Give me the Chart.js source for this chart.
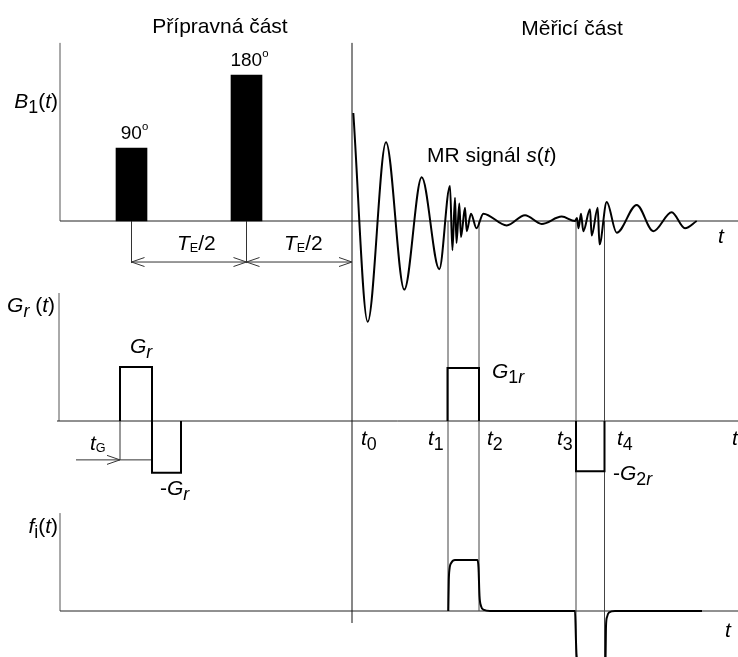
<!DOCTYPE html>
<html>
<head>
<meta charset="utf-8">
<script src="https://cdn.jsdelivr.net/npm/chart.js@4"></script>
<style>
  html, body { margin: 0; padding: 0; background: #fff; }
  #wrap { width: 738px; height: 657px; }
</style>
</head>
<body>
<div id="wrap"><canvas id="grafico" width="738" height="657"></canvas></div>
<script>
// cas v libovolnych jednotkach (0 = pocatek os)
const rfTimes = [7.15, 18.65];
const rfHeights = [0.5, 1.0];
const rfNames = ['90', '180'];

const markerNames = ['0', '1', '2', '3', '4'];
const markerTimes = [29.2, 38.8, 41.9, 51.6, 54.45];

// MR signal s(t) - extremy
const signalTimes = [29.33, 30.77, 32.6, 34.43, 36.17, 37.93, 39.0, 39.24, 39.5, 39.65, 39.93, 40.1,
  40.5, 40.67, 41.1, 41.65, 42.33, 44.67, 46.5, 48.17, 50.17, 51.5, 51.7, 51.85, 52.1, 52.33,
  53.0, 53.17, 53.77, 53.95, 54.67, 55.67, 57.67, 59.33, 61.17, 62.5, 63.67];
const signalValues = [0.74, -0.69, 0.54, -0.47, 0.30, -0.33, 0.24, -0.20, 0.16, -0.15, 0.12, -0.11,
  0.09, -0.07, 0.05, -0.05, 0.05, -0.03, 0.04, -0.02, 0.03, 0, 0.02, -0.05, 0.05, -0.07,
  0.08, -0.10, 0.09, -0.16, 0.13, -0.08, 0.11, -0.07, 0.06, -0.05, 0];

// gradienty G_r(t)
const gradTimes = [6.0, 6.0, 9.2, 9.2, 12.1, 12.1];
const gradValues = [0, 1, 1, -0.96, -0.96, 0];
const grad1Times = [38.75, 38.75, 41.9, 41.9];
const grad1Values = [0, 0.98, 0.98, 0];
const grad2Times = [51.6, 51.6, 54.45, 54.45];
const grad2Values = [0, -0.93, -0.93, 0];

// f_i(t)
const freqTimes = [38.83, 38.88, 38.95, 39.15, 39.5, 41.75, 41.85, 41.95, 42.1, 42.4, 43.0,
  51.5, 51.6, 51.65, 51.8, 51.95, 54.4, 54.55, 54.6, 54.7, 54.9, 55.5, 64.2];
const freqValues = [0, 0.6, 0.82, 0.95, 1.0, 1.0, 0.85, 0.3, 0.1, 0.02, 0,
  0, -0.6, -0.85, -1.0, -1.1, -1.1, -0.95, -0.3, -0.12, -0.03, 0, 0];

// rozlozeni
const W = 738, H = 657;
const panels = {
  yB: { base: 221, ppu: 146 },
  yG: { base: 421, ppu: 54 },
  yF: { base: 611, ppu: 51 }
};
const FONT = '"Liberation Sans", Arial, sans-serif';

const toPoints = (xs, ys) => xs.map((x, i) => ({ x: x, y: ys[i] }));

function yScale(p) {
  return { type: 'linear', display: false, min: -(H - p.base) / p.ppu, max: p.base / p.ppu };
}

// text s kurzivou, dolnimi a hornimi indexy
function rich(ctx, x, y, runs, size, align) {
  const parts = runs.map(r => {
    const f = r[1] || '';
    let sz = size, dy = 0;
    if (f.includes('b')) { sz = size * 0.85; dy = 5; }
    if (f.includes('s')) { sz = size * 0.6; dy = 2; }
    if (f.includes('p')) { sz = size * 0.6; dy = -9; }
    const font = (f.includes('i') ? 'italic ' : '') + sz + 'px ' + FONT;
    ctx.font = font;
    return { t: r[0], font: font, dy: dy, w: ctx.measureText(r[0]).width };
  });
  const total = parts.reduce((a, p) => a + p.w, 0);
  let cx = x;
  if (align === 'center') cx = x - total / 2;
  if (align === 'right') cx = x - total;
  ctx.textAlign = 'left';
  ctx.textBaseline = 'alphabetic';
  ctx.fillStyle = '#000';
  parts.forEach(p => {
    ctx.font = p.font;
    ctx.fillText(p.t, cx, y + p.dy);
    cx += p.w;
  });
}

function line(ctx, x1, y1, x2, y2) {
  ctx.beginPath();
  ctx.moveTo(x1, y1);
  ctx.lineTo(x2, y2);
  ctx.stroke();
}

function chevron(ctx, x, y, dir) {
  ctx.beginPath();
  ctx.moveTo(x + dir * 13, y - 4.5);
  ctx.lineTo(x, y);
  ctx.lineTo(x + dir * 13, y + 4.5);
  ctx.stroke();
}

const schema = {
  id: 'schema',
  beforeDatasetsDraw(chart) {
    const { ctx, scales } = chart;
    const X = v => scales.x.getPixelForValue(v);
    const B = v => scales.yB.getPixelForValue(v);
    const G = v => scales.yG.getPixelForValue(v);
    const F = v => scales.yF.getPixelForValue(v);
    ctx.save();
    ctx.lineWidth = 1;

    // osy
    ctx.strokeStyle = '#555';
    line(ctx, X(0), B(1.22), X(0), B(0));
    line(ctx, X(-0.1), G(2.37), X(-0.1), G(0));
    line(ctx, X(0), F(1.92), X(0), F(0));
    ctx.strokeStyle = '#222';
    line(ctx, X(0), B(0), W, B(0));
    line(ctx, X(-0.3), G(0), W, G(0));
    line(ctx, X(0), F(0), W, F(0));

    // casove znacky
    ctx.strokeStyle = '#111';
    line(ctx, X(markerTimes[0]), B(1.22), X(markerTimes[0]), F(-0.235));
    ctx.strokeStyle = '#444';
    line(ctx, X(markerTimes[1]), B(0), X(markerTimes[1]), F(0));
    line(ctx, X(markerTimes[2]), B(0), X(markerTimes[2]), F(0));
    line(ctx, X(markerTimes[3]), B(0), X(markerTimes[3]), H);
    line(ctx, X(markerTimes[4]), B(0), X(markerTimes[4]), H);

    // T_E/2 kotovani
    ctx.strokeStyle = '#333';
    line(ctx, X(rfTimes[0]), B(0), X(rfTimes[0]), B(-0.288));
    line(ctx, X(rfTimes[1]), B(0), X(rfTimes[1]), B(-0.288));
    const ya = B(-0.281);
    line(ctx, X(rfTimes[0]), ya, X(markerTimes[0]), ya);
    chevron(ctx, X(rfTimes[0]), ya, 1);
    chevron(ctx, X(rfTimes[1]), ya, -1);
    chevron(ctx, X(rfTimes[1]), ya, 1);
    chevron(ctx, X(markerTimes[0]), ya, -1);

    // t_G
    const yt = G(-0.72);
    line(ctx, X(1.6), yt, X(gradTimes[2]), yt);
    line(ctx, X(gradTimes[0]), G(0), X(gradTimes[0]), yt);
    chevron(ctx, X(gradTimes[0]), yt, -1);
    ctx.restore();
  },
  afterDatasetsDraw(chart) {
    const { ctx, scales } = chart;
    const X = v => scales.x.getPixelForValue(v);
    const B = v => scales.yB.getPixelForValue(v);
    const G = v => scales.yG.getPixelForValue(v);
    const F = v => scales.yF.getPixelForValue(v);
    const S = 21;
    ctx.save();
    rich(ctx, X(16.0), B(1.288), [['Přípravná část']], S, 'center');
    rich(ctx, X(51.2), B(1.274), [['Měřicí část']], S, 'center');
    rich(ctx, X(-0.2), B(0.774), [['B', 'i'], ['1', 'b'], ['('], ['t', 'i'], [')']], S, 'right');
    rich(ctx, X(rfTimes[0]) + 3, B(rfHeights[0]) - 9, [[rfNames[0]], ['o', 'p']], S - 2, 'center');
    rich(ctx, X(rfTimes[1]) + 3, B(rfHeights[1]) - 9, [[rfNames[1]], ['o', 'p']], S - 2, 'center');
    rich(ctx, X(11.7), B(-0.199), [['T', 'i'], ['E', 's'], ['/2']], S, 'left');
    rich(ctx, X(22.4), B(-0.199), [['T', 'i'], ['E', 's'], ['/2']], S, 'left');
    rich(ctx, X(36.7), B(0.404), [['MR signál '], ['s', 'i'], ['('], ['t', 'i'], [')']], S, 'left');
    rich(ctx, X(65.8), B(-0.151), [['t', 'i']], S, 'left');

    rich(ctx, X(-0.5), G(2.02), [['G', 'i'], ['r', 'bi'], [' ('], ['t', 'i'], [')']], S, 'right');
    rich(ctx, X(7.0), G(1.26), [['G', 'i'], ['r', 'bi']], S, 'left');
    rich(ctx, X(3.0), G(-0.537), [['t', 'i'], ['G', 's']], S, 'left');
    rich(ctx, X(10.0), G(-1.37), [['-'], ['G', 'i'], ['r', 'bi']], S, 'left');
    const labX = [30.1, 36.8, 42.7, 49.7, 55.7];
    markerNames.forEach((n, i) => {
      rich(ctx, X(labX[i]), G(-0.444), [['t', 'i'], [n, 'b']], S, 'left');
    });
    rich(ctx, X(67.2), G(-0.444), [['t', 'i']], S, 'left');
    rich(ctx, X(43.2), G(0.796), [['G', 'i'], ['1', 'b'], ['r', 'bi']], S, 'left');
    rich(ctx, X(55.3), G(-1.093), [['-'], ['G', 'i'], ['2', 'b'], ['r', 'bi']], S, 'left');

    rich(ctx, X(-0.2), F(1.53), [['f', 'i'], ['i', 'b'], ['('], ['t', 'i'], [')']], S, 'right');
    rich(ctx, X(66.5), F(-0.51), [['t', 'i']], S, 'left');
    ctx.restore();
  }
};

const lineStyle = { borderColor: '#000', borderWidth: 2, pointRadius: 0, fill: false, tension: 0 };

new Chart(document.getElementById('grafico').getContext('2d'), {
  type: 'line',
  data: {
    datasets: [
      { type: 'bar', label: 'B1', data: toPoints(rfTimes, rfHeights), yAxisID: 'yB',
        backgroundColor: '#000', barThickness: 31, grouped: false },
      Object.assign({ label: 's(t)', data: toPoints(signalTimes, signalValues), yAxisID: 'yB',
        cubicInterpolationMode: 'monotone' }, lineStyle),
      Object.assign({ label: 'Gr', data: toPoints(gradTimes, gradValues), yAxisID: 'yG' }, lineStyle),
      Object.assign({ label: 'G1r', data: toPoints(grad1Times, grad1Values), yAxisID: 'yG' }, lineStyle),
      Object.assign({ label: 'G2r', data: toPoints(grad2Times, grad2Values), yAxisID: 'yG' }, lineStyle),
      Object.assign({ label: 'fi', data: toPoints(freqTimes, freqValues), yAxisID: 'yF',
        cubicInterpolationMode: 'monotone' }, lineStyle)
    ]
  },
  options: {
    responsive: false,
    animation: false,
    layout: { padding: 0 },
    plugins: { legend: { display: false }, tooltip: { enabled: false } },
    events: [],
    scales: {
      x: { type: 'linear', display: false, min: -6, max: 67.8, offset: false },
      yB: yScale(panels.yB),
      yG: yScale(panels.yG),
      yF: yScale(panels.yF)
    }
  },
  plugins: [schema]
});
</script>
</body>
</html>
